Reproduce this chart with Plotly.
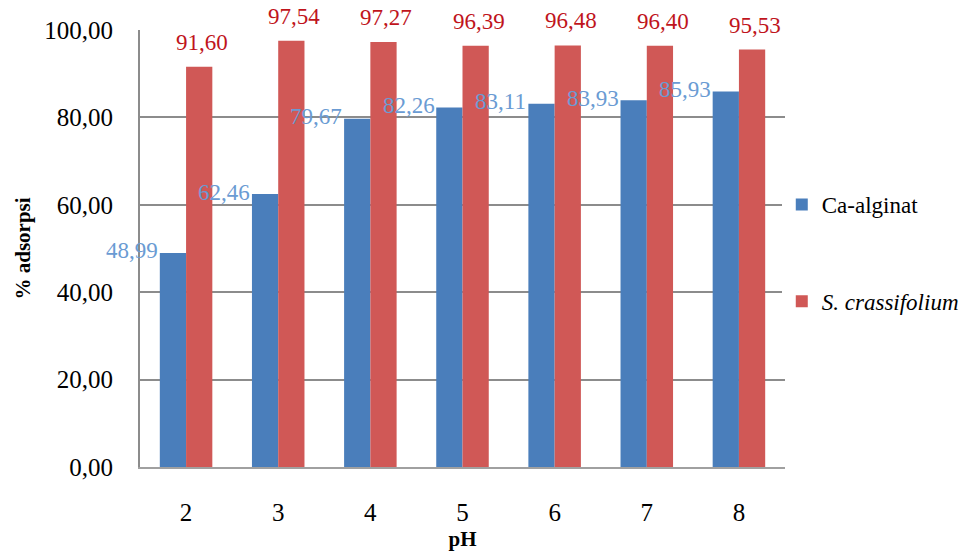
import plotly.graph_objects as go

ph = ["2", "3", "4", "5", "6", "7", "8"]
ca_alginat = [48.99, 62.46, 79.67, 82.26, 83.11, 83.93, 85.93]
s_crassifolium = [91.60, 97.54, 97.27, 96.39, 96.48, 96.40, 95.53]
y_ticks = [0, 20, 40, 60, 80, 100]

FONT = "Liberation Serif, Times New Roman, serif"
BLUE = "#4a7ebb"
RED = "#d05856"
BLUE_TXT = "#6a9bd3"
RED_TXT = "#c0141c"

fig = go.Figure()
fig.add_trace(go.Bar(x=ph, y=ca_alginat, name="Ca-alginat", legendgroup="a",
                     marker=dict(color=BLUE, line=dict(width=0))))
fig.add_trace(go.Bar(x=ph, y=s_crassifolium, name="<i>S. crassifolium</i>", legendgroup="b",
                     marker=dict(color=RED, line=dict(width=0))))

def fmt(v):
    return f"{v:.2f}".replace(".", ",")

for i, v in enumerate(ca_alginat):
    fig.add_annotation(x=i, y=v, xref="x", yref="y", text=fmt(v), showarrow=False,
                       yanchor="middle", xanchor="center",
                       xshift=-54, yshift=2, font=dict(family=FONT, size=23, color=BLUE_TXT))
for i, v in enumerate(s_crassifolium):
    fig.add_annotation(x=i, y=v, xref="x", yref="y", text=fmt(v), showarrow=False,
                       yanchor="bottom", xanchor="center",
                       xshift=16, yshift=10, font=dict(family=FONT, size=23, color=RED_TXT))

fig.update_layout(
    width=976, height=559,
    margin=dict(l=140, r=186, t=30, b=89),
    paper_bgcolor="white", plot_bgcolor="white",
    separators=",.",
    barmode="group", bargap=0.43, bargroupgap=0,
    font=dict(family=FONT, size=23, color="black"),
    showlegend=True,
    legend=dict(x=0.995, y=0.65, xanchor="left", yanchor="top",
                tracegroupgap=64, font=dict(family=FONT, size=23),
                itemwidth=30),
    xaxis=dict(type="category", range=[-0.5, 6.5],
               title=dict(text="<b>pH</b>", font=dict(family=FONT, size=21), standoff=6),
               ticks="outside", ticklen=22, tickcolor="rgba(0,0,0,0)",
               showline=True, linecolor="#a0a0a0", linewidth=2,
               tickfont=dict(family=FONT, size=25)),
    yaxis=dict(title=dict(text="<b>% adsorpsi</b>", font=dict(family=FONT, size=21), standoff=8),
               range=[0, 100], tickvals=y_ticks, tickformat=".2f",
               showgrid=True, gridcolor="#8c8c8c", gridwidth=2,
               showline=True, linecolor="#8c8c8c", linewidth=2,
               ticks="outside", ticklen=20, tickcolor="rgba(0,0,0,0)",
               zeroline=False, tickfont=dict(family=FONT, size=25)),
)
fig.write_html("out.html")
